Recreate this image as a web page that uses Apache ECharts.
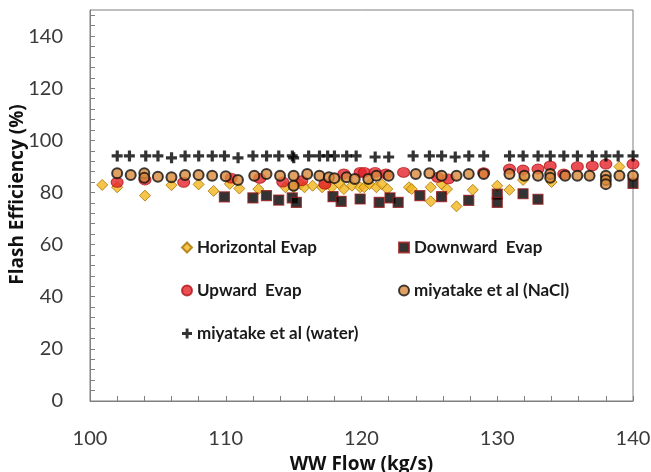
<!DOCTYPE html>
<html>
<head>
<meta charset="utf-8">
<script src="https://cdn.jsdelivr.net/npm/echarts@6/dist/echarts.min.js"></script>
<style>
  html, body { margin: 0; padding: 0; background: #fff; }
  #chart { width: 651px; height: 472px; }
</style>
</head>
<body>
<div id="chart"></div>
<script>
// flash efficiency (%) against WW flow (kg/s)
var horizontalEvap = [
  [100.9, 82.9], [102.0, 82.0], [104.05, 78.8], [106.0, 82.8], [108.0, 83.1], [109.1, 80.6],
  [110.3, 83.3], [111.0, 81.5], [112.4, 81.3], [114.4, 82.0], [115.0, 82.0], [115.5, 83.2],
  [115.8, 82.0], [116.4, 82.6], [117.1, 82.0], [117.4, 83.2], [117.8, 82.0], [118.4, 83.2],
  [118.7, 81.3], [119.3, 82.6], [119.9, 82.0], [120.2, 82.0], [120.6, 83.2], [121.1, 82.0],
  [121.5, 83.2], [121.9, 81.3], [123.5, 82.0], [123.7, 81.3], [125.1, 82.0], [125.1, 76.6],
  [125.9, 83.2], [126.3, 81.3], [127.0, 74.7], [128.2, 81.0], [130.0, 82.6], [130.9, 81.0],
  [131.9, 84.8], [134.0, 84.0], [139.0, 89.9]
];
var downwardEvap = [
  [109.9, 78.3], [112.0, 77.9], [113.0, 78.8], [113.9, 77.1], [114.9, 77.9], [115.2, 76.2],
  [117.9, 78.4], [118.5, 76.6], [119.9, 77.5], [121.3, 76.2], [122.1, 77.9], [122.7, 76.2],
  [124.3, 78.8], [125.9, 78.4], [127.9, 77.0], [130.0, 79.4], [130.0, 76.2], [131.9, 79.5],
  [133.0, 77.4], [140.0, 83.5]
];
var upwardEvap = [
  [102.0, 83.9], [104.05, 84.8], [106.9, 83.9], [110.4, 85.5], [112.5, 85.4], [114.2, 84.0],
  [115.6, 84.5], [117.3, 83.2], [118.7, 87.1], [119.9, 87.7], [120.2, 87.7], [121.0, 87.7],
  [121.8, 87.1], [123.1, 87.7], [125.6, 85.8], [126.4, 85.2], [129.0, 87.6], [130.9, 89.0],
  [131.9, 88.6], [133.0, 89.0], [133.9, 90.2], [134.9, 87.1], [135.9, 89.9], [137.0, 90.2],
  [138.0, 90.9], [140.0, 90.9]
];
var miyatakeNaCl = [
  [102.0, 87.4], [103.0, 86.7], [104.0, 87.4], [104.0, 85.6], [105.0, 86.0], [106.0, 85.8],
  [107.0, 86.7], [108.0, 86.7], [109.0, 86.4], [110.0, 86.2], [110.9, 84.8], [112.1, 86.4],
  [113.0, 87.1], [114.0, 86.4], [115.0, 86.4], [115.0, 82.6], [116.0, 87.1], [116.9, 86.4],
  [117.6, 85.8], [118.0, 85.5], [118.9, 85.8], [119.5, 85.2], [120.5, 85.2], [121.1, 86.4],
  [122.0, 86.4], [124.0, 87.1], [125.0, 87.4], [125.9, 86.4], [127.0, 86.4], [127.9, 87.1],
  [129.0, 87.1], [130.9, 87.1], [132.0, 86.4], [133.0, 86.4], [133.9, 87.1], [133.9, 85.6],
  [135.0, 86.4], [135.9, 86.4], [136.8, 86.4], [138.0, 86.4], [138.0, 84.8], [138.0, 83.2],
  [139.0, 86.4], [140.0, 86.4]
];
var miyatakeWater = [
  [102.0, 94], [102.9, 94], [104.1, 94], [105.0, 94], [106.0, 93.3], [107.0, 94], [108.0, 94],
  [109.0, 94], [109.9, 94], [110.9, 93.3], [112.0, 94], [113.0, 94], [113.9, 94], [114.9, 94],
  [115.0, 93.3], [116.1, 94], [116.9, 94], [117.5, 94], [118.0, 94], [118.9, 94], [119.6, 94],
  [121.0, 93.6], [122.0, 93.6], [123.8, 94], [125.0, 94], [125.9, 94], [126.9, 93.6], [127.9, 94],
  [129.0, 94], [130.9, 94], [131.9, 94], [133.0, 94], [133.9, 94], [134.9, 94], [135.9, 94],
  [137.0, 94], [138.0, 94], [138.9, 94], [140.0, 94]
];
var xLabels = [100, 110, 120, 130, 140];
var yLabels = [0, 20, 40, 60, 80, 100, 120, 140];

var plus = 'path://M4,0H7.2V3.9H11V7.1H7.2V11H4V7.1H0V3.9H4Z';

var chart = echarts.init(document.getElementById('chart'));

var legendText = { fontFamily: 'Lato', fontSize: 17, fontWeight: 'bold', color: '#1a1a1a' };

option = {
  animation: false,
  grid: {
    left: 90, right: 18, top: 10, bottom: 71, outerBoundsMode: 'none',
    show: true, borderColor: '#7f7f7f', borderWidth: 1
  },
  legend: [
    {
      orient: 'vertical', left: 176, top: 234, itemWidth: 10, itemHeight: 10, itemGap: 26,
      textStyle: legendText,
      data: ['Horizontal Evap', 'Upward  Evap', 'miyatake et al (water)']
    },
    {
      orient: 'vertical', left: 393, top: 234, itemWidth: 10, itemHeight: 10, itemGap: 26,
      textStyle: legendText,
      data: ['Downward  Evap', 'miyatake et al (NaCl)']
    }
  ],
  xAxis: {
    type: 'value', min: 100, max: 140, interval: 2,
    name: 'WW Flow (kg/s)', nameLocation: 'middle', nameGap: 54, nameMoveOverlap: false,
    nameTextStyle: { fontFamily: 'Open Sans', fontSize: 19, fontWeight: 'bold', color: '#111' },
    axisLine: { lineStyle: { color: '#7f7f7f' } },
    axisTick: { inside: true, length: 5, lineStyle: { color: '#7f7f7f' } },
    axisLabel: {
      margin: 28, fontFamily: 'Lato', fontSize: 20, color: '#3a3a3a',
      formatter: function (v) { return xLabels.indexOf(v) >= 0 ? String(v) : ''; }
    },
    splitLine: { show: false }
  },
  yAxis: {
    type: 'value', min: 0, max: 150, interval: 4,
    name: 'Flash Efficiency (%)', nameLocation: 'middle', nameGap: 63, nameMoveOverlap: false,
    nameTextStyle: { fontFamily: 'Open Sans', fontSize: 19, fontWeight: 'bold', color: '#111', padding: [0, 0, 0, 22] },
    axisLine: { show: true, lineStyle: { color: '#7f7f7f' } },
    axisTick: { inside: true, length: 5, lineStyle: { color: '#7f7f7f' } },
    axisLabel: {
      margin: 27, fontFamily: 'Lato', fontSize: 20, color: '#3a3a3a',
      showMaxLabel: false,
      formatter: function (v) { return yLabels.indexOf(v) >= 0 ? String(v) : ''; }
    },
    splitLine: { show: false }
  },
  series: [
    {
      name: 'Horizontal Evap', type: 'scatter', symbol: 'diamond', symbolSize: [11, 11],
      itemStyle: { color: '#F2B51E', borderColor: '#A87300', borderWidth: 1 },
      data: horizontalEvap
    },
    {
      name: 'Downward  Evap', type: 'scatter', symbol: 'rect', symbolSize: 10,
      itemStyle: { color: '#000', borderColor: '#9B1B1B', borderWidth: 1.2 },
      data: downwardEvap
    },
    {
      name: 'Upward  Evap', type: 'scatter', symbol: 'circle', symbolSize: [12, 10],
      itemStyle: { color: '#E3232B', borderColor: '#B01417', borderWidth: 1 },
      data: upwardEvap
    },
    {
      name: 'miyatake et al (NaCl)', type: 'scatter', symbol: 'circle', symbolSize: 10,
      itemStyle: { color: '#D9893B', borderColor: '#111', borderWidth: 2 },
      data: miyatakeNaCl
    },
    {
      name: 'miyatake et al (water)', type: 'scatter', symbol: plus, symbolSize: 11,
      itemStyle: { color: '#000' },
      data: miyatakeWater
    }
  ]
};
chart.setOption(option);
</script>
</body>
</html>
